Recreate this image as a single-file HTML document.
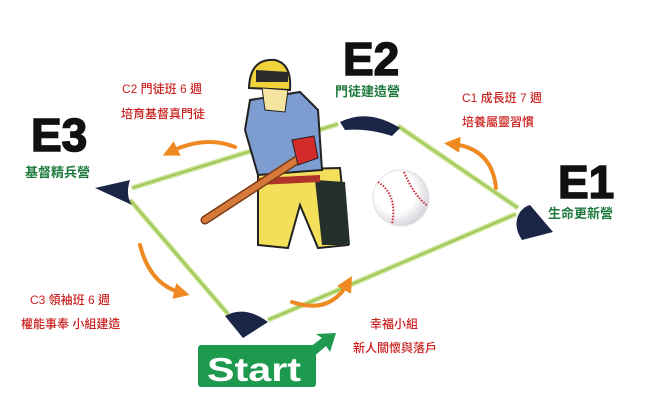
<!DOCTYPE html>
<html><head><meta charset="utf-8"><style>
html,body{margin:0;padding:0;background:#fff;width:650px;height:415px;overflow:hidden}
svg{display:block}
.big{font-family:"Liberation Sans",sans-serif;font-weight:900;fill:#111;stroke:#111;stroke-width:1.5}
.g{font-family:"Liberation Sans","Noto Sans CJK TC",sans-serif;font-weight:700;fill:#1f7a3e;font-size:13px}
.r{font-family:"Liberation Sans","Noto Sans CJK TC",sans-serif;fill:#c8201e;font-size:12px;font-weight:500}
</style></head><body>
<svg width="650" height="415" viewBox="0 0 650 415" xmlns="http://www.w3.org/2000/svg">
<defs>
<marker id="ah" viewBox="0 0 10 10" refX="5" refY="5" markerWidth="4" markerHeight="4" orient="auto"><path d="M0,0 L10,5 L0,10 z" fill="#ef8a22"/></marker>
<radialGradient id="bg" cx="0.4" cy="0.4" r="0.6"><stop offset="0.6" stop-color="#fff"/><stop offset="1" stop-color="#d8d8de"/></radialGradient>
</defs>
<g fill="none" stroke="#c6e08a" stroke-width="5" stroke-linejoin="round">
<path d="M132,188 L338,124"/>
<path d="M398,126 L518,208"/>
<path d="M516,214 L268,320"/>
<path d="M228,314 L130,200"/>
</g>
<g fill="none" stroke="#8fc04a" stroke-width="1.3">
<path d="M132,188 L338,124"/><path d="M398,126 L518,208"/><path d="M516,214 L268,320"/><path d="M228,314 L130,200"/>
</g>
<path d="M95,188 L130,180 Q125,195 132,205 Z" fill="#1b2647"/>
<path d="M340,122 Q368,108 400,128 L392,136 Q368,128 345,130 Z" fill="#1b2647"/>
<path d="M520,212 Q525,206 530,205 L553,232 L522,240 Q512,225 520,212 Z" fill="#1b2647"/>
<path d="M225,316 Q245,305 268,322 L243,338 Z" fill="#1b2647"/>
<g fill="none" stroke="#ef8a22" stroke-width="4" stroke-linecap="round">
<path d="M235,147 Q205,135 170,152" marker-end="url(#ah)"/>
<path d="M496,188 Q492,148 452,144" marker-end="url(#ah)"/>
<path d="M140,245 Q150,285 182,293" marker-end="url(#ah)"/>
<path d="M292,302 Q330,315 348,283" marker-end="url(#ah)"/>
</g>
<circle cx="401" cy="198" r="28" fill="url(#bg)" stroke="#e2e2e6" stroke-width="1"/>
<path d="M378,182 Q398,195 392,224" fill="none" stroke="#d0283a" stroke-width="2" stroke-dasharray="1.5 1.5"/>
<path d="M404,172 Q414,196 428,206" fill="none" stroke="#d0283a" stroke-width="2" stroke-dasharray="1.5 1.5"/>
<path d="M258,170 L340,168 L348,245 L318,248 L300,205 L288,248 L258,245 Z" fill="#f3df5a" stroke="#222" stroke-width="2"/>
<path d="M315,180 L345,182 L350,245 L322,245 Z" fill="#25302a"/>
<path d="M250,100 L300,92 L318,110 L322,170 L258,175 L245,130 Z" fill="#7d9ccf" stroke="#222" stroke-width="2"/>
<path d="M258,178 L320,175 L320,182 L258,185 Z" fill="#b0332a"/>
<path d="M249,88 Q250,58 275,60 Q292,64 290,90 Z" fill="#f0d33a" stroke="#222" stroke-width="2"/>
<path d="M256,70 L288,72 L288,82 L256,82 Z" fill="#2a2a2a"/>
<path d="M262,88 L288,90 L285,112 L265,110 Z" fill="#f5e3a0" stroke="#222"/>
<path d="M205,220 L300,158" stroke="#7a3a15" stroke-width="9" stroke-linecap="round"/>
<path d="M205,220 L300,158" stroke="#d7793a" stroke-width="6" stroke-linecap="round"/>
<path d="M292,140 L314,136 L318,158 L298,165 Z" fill="#d42a2a" stroke="#222"/>
<rect x="198" y="345" width="118" height="42" rx="3" fill="#1e9a4f"/>
<path d="M310,347 L322,338 L316,334 L336,333 L330,352 L326,346 L312,358 Z" fill="#1e9a4f"/>
<text x="207" y="381" font-family="Liberation Sans,sans-serif" font-weight="700" font-size="33" fill="#fff" textLength="94" lengthAdjust="spacingAndGlyphs">Start</text>
<text class="big" x="31" y="151" font-size="46">E3</text>
<text class="g" x="25" y="177">基督精兵營</text>
<text class="big" x="343" y="75" font-size="46">E2</text>
<text class="g" x="335" y="96">門徒建造營</text>
<text class="big" x="558" y="198" font-size="46">E1</text>
<text class="g" x="548" y="218">生命更新營</text>
<text class="r" x="122" y="93">C2 門徒班 6 週</text>
<text class="r" x="121" y="118">培育基督真門徒</text>
<text class="r" x="462" y="102">C1 成長班 7 週</text>
<text class="r" x="462" y="126">培養屬靈習慣</text>
<text class="r" x="30" y="304">C3 領袖班 6 週</text>
<text class="r" x="21" y="328">權能事奉  小組建造</text>
<text class="r" x="370" y="328">幸福小組</text>
<text class="r" x="353" y="352">新人關懷與落戶</text>
</svg>
</body></html>
